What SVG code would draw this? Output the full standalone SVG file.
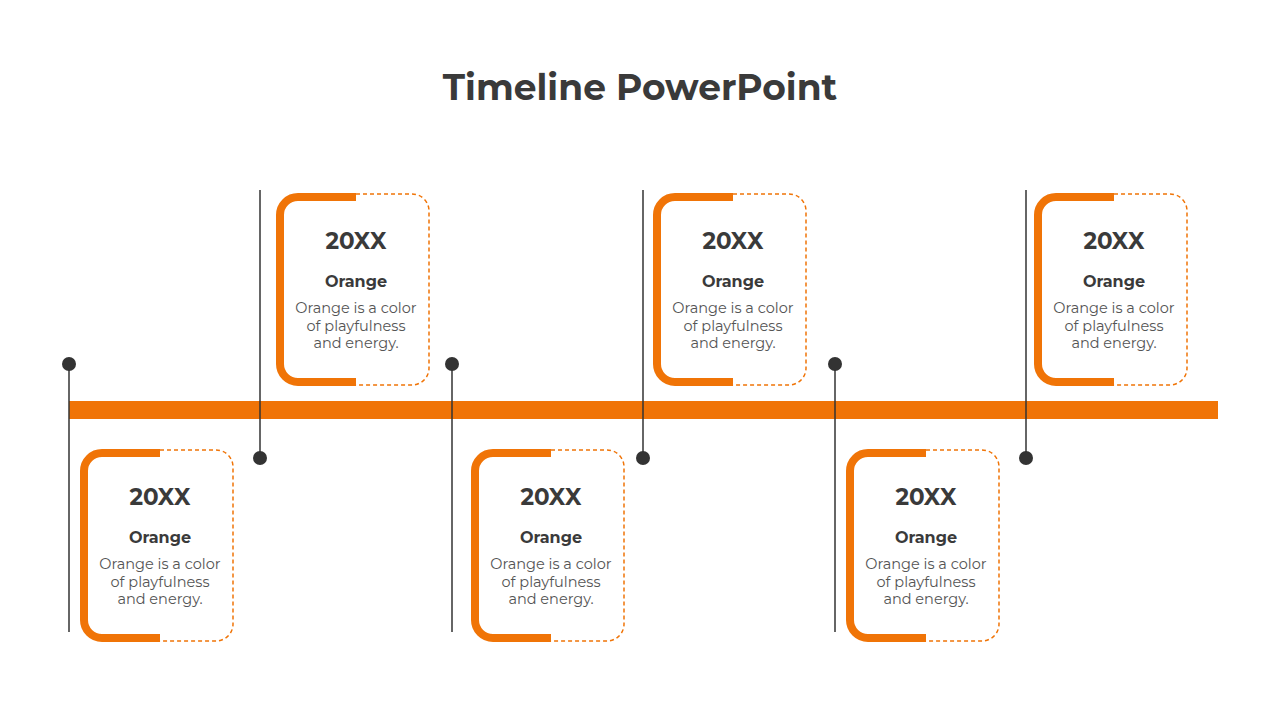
<svg xmlns="http://www.w3.org/2000/svg" width="1280" height="720" viewBox="0 0 1280 720">
<style>
.br{fill:none;stroke:#F07407;stroke-width:8}
.ds{fill:none;stroke:#F07407;stroke-width:1.5;stroke-dasharray:4 3}
.ln{stroke:#333;stroke-width:1.5}
.dot{fill:#333}
text{font-family:Montserrat,"Noto Sans","Liberation Sans",sans-serif;fill:#3a3a3a;text-anchor:middle}
.yr{font-size:23px;font-weight:700}
.hd{font-size:16px;font-weight:700}
.bd{font-size:14.5px;fill:#555}
</style>
<defs>
<g id="card">
<path class="br" d="M80 4 H22 A18 18 0 0 0 4 22 V171 A18 18 0 0 0 22 189 H80"/>
<path class="ds" d="M80 1 H136 A17 17 0 0 1 153 18 V175 A17 17 0 0 1 136 192 H80"/>
<text x="80" y="56" class="yr">20XX</text>
<text x="80" y="94" class="hd">Orange</text>
<text x="80" y="120" class="bd">Orange is a color</text>
<text x="80" y="138" class="bd">of playfulness</text>
<text x="80" y="155" class="bd">and energy.</text>
</g>
</defs>
<text x="640" y="100" style="font-size:36px;font-weight:700">Timeline PowerPoint</text>
<rect x="69" y="401" width="1149" height="18" fill="#F07407"/>
<g id="connectors">
<line class="ln" x1="69" y1="364" x2="69" y2="632"/><circle class="dot" cx="69" cy="364" r="7"/>
<line class="ln" x1="452" y1="364" x2="452" y2="632"/><circle class="dot" cx="452" cy="364" r="7"/>
<line class="ln" x1="835" y1="364" x2="835" y2="632"/><circle class="dot" cx="835" cy="364" r="7"/>
<line class="ln" x1="260" y1="190" x2="260" y2="458"/><circle class="dot" cx="260" cy="458" r="7"/>
<line class="ln" x1="643" y1="190" x2="643" y2="458"/><circle class="dot" cx="643" cy="458" r="7"/>
<line class="ln" x1="1026" y1="190" x2="1026" y2="458"/><circle class="dot" cx="1026" cy="458" r="7"/>
</g>
<g id="card1" transform="translate(80,449)"><use href="#card"/></g>
<g id="card2" transform="translate(276,193)"><use href="#card"/></g>
<g id="card3" transform="translate(471,449)"><use href="#card"/></g>
<g id="card4" transform="translate(653,193)"><use href="#card"/></g>
<g id="card5" transform="translate(846,449)"><use href="#card"/></g>
<g id="card6" transform="translate(1034,193)"><use href="#card"/></g>
</svg>
